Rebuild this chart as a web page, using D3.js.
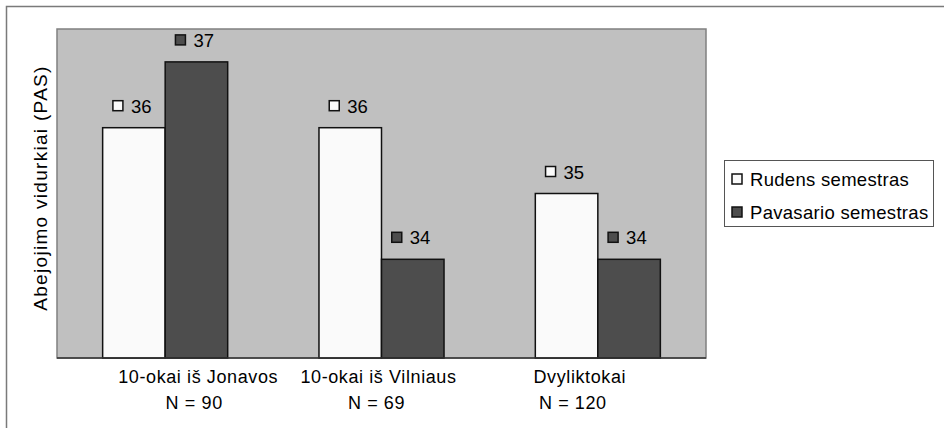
<!DOCTYPE html>
<html>
<head>
<meta charset="utf-8">
<script src="https://cdn.jsdelivr.net/npm/d3@7"></script>
<style>
  body { margin: 0; background: #fff; }
  text { font-family: "Liberation Sans", Arial, sans-serif; fill: #000; }
</style>
</head>
<body>
<div id="chart"></div>
<script>
// data
var groups = ["10-okai iš Jonavos", "10-okai iš Vilniaus", "Dvyliktokai"];
var groupN = ["N = 90", "N = 69", "N = 120"];
var seriesNames = ["Rudens semestras", "Pavasario semestras"];
var rudens = [36, 36, 35];
var pavasario = [37, 34, 34];
var yLabel = "Abejojimo vidurkiai (PAS)";

var colors = ["#fafafa", "#4d4d4d"];

var width = 944, height = 428;
var plot = {left: 57, top: 29, right: 706, bottom: 358};

var svg = d3.select("#chart")
    .append("svg")
    .attr("width", width)
    .attr("height", height);

// outer chart border (runs past the window on the right/bottom)
svg.append("rect")
    .attr("x", 6.5).attr("y", 6.5)
    .attr("width", 1200).attr("height", 1200)
    .attr("fill", "none")
    .attr("stroke", "#7a7a7a")
    .attr("stroke-width", 1.5);

// plot area
svg.append("rect")
    .attr("x", plot.left).attr("y", plot.top)
    .attr("width", plot.right - plot.left)
    .attr("height", plot.bottom - plot.top)
    .attr("fill", "#c0c0c0")
    .attr("stroke", "#808080")
    .attr("stroke-width", 1.5);

var x0 = d3.scaleBand()
    .domain(groups)
    .range([plot.left, plot.right])
    .paddingInner(0.422)
    .paddingOuter(0.211);

var x1 = d3.scaleBand()
    .domain(seriesNames)
    .range([0, x0.bandwidth()]);

var y = d3.scaleLinear()
    .domain([32.5, 37.5])
    .range([plot.bottom, plot.top]);

var rows = groups.map(function (g, i) {
    return {group: g, values: [
        {s: seriesNames[0], v: rudens[i], c: 0},
        {s: seriesNames[1], v: pavasario[i], c: 1}
    ]};
});

var gGroups = svg.selectAll("g.grp")
    .data(rows)
    .enter()
    .append("g")
    .attr("class", "grp")
    .attr("transform", function (d) { return "translate(" + x0(d.group) + ",0)"; });

gGroups.selectAll("rect")
    .data(function (d) { return d.values; })
    .enter()
    .append("rect")
    .attr("x", function (d) { return x1(d.s); })
    .attr("y", function (d) { return y(d.v); })
    .attr("width", x1.bandwidth())
    .attr("height", function (d) { return plot.bottom - y(d.v); })
    .attr("fill", function (d) { return colors[d.c]; })
    .attr("stroke", "#111")
    .attr("stroke-width", 1.5);

// value labels with small legend key
var lab = gGroups.selectAll("g.lab")
    .data(function (d) { return d.values; })
    .enter()
    .append("g")
    .attr("class", "lab")
    .attr("transform", function (d) {
        return "translate(" + (x1(d.s) + x1.bandwidth() / 2) + "," + (y(d.v) - 15) + ")";
    });

lab.append("rect")
    .attr("x", -21).attr("y", -12)
    .attr("width", 10).attr("height", 10)
    .attr("fill", function (d) { return colors[d.c]; })
    .attr("stroke", "#111")
    .attr("stroke-width", 1.5);

lab.append("text")
    .attr("x", -3)
    .attr("y", 0)
    .attr("font-size", "18.5px")
    .text(function (d) { return d.v; });

// bottom axis line
svg.append("line")
    .attr("x1", plot.left).attr("x2", plot.right)
    .attr("y1", plot.bottom).attr("y2", plot.bottom)
    .attr("stroke", "#333")
    .attr("stroke-width", 1.5);

// category labels (Excel put them slightly off-centre)
var tickShift = [33, -3, -18];
var cat = svg.selectAll("text.cat")
    .data(groups)
    .enter()
    .append("text")
    .attr("class", "cat")
    .attr("text-anchor", "middle")
    .attr("font-size", "18px")
    .attr("letter-spacing", "0.6px")
    .attr("transform", function (d, i) {
        return "translate(" + (x0(d) + x0.bandwidth() / 2 + tickShift[i]) + ",0)";
    });

cat.append("tspan")
    .attr("x", 0).attr("y", 383)
    .text(function (d) { return d; });

cat.append("tspan")
    .attr("x", function (d, i) { return [-4, -2, -7][i]; })
    .attr("y", 409)
    .text(function (d, i) { return groupN[i]; });

// y axis title
svg.append("text")
    .attr("transform", "translate(47,188) rotate(-90)")
    .attr("text-anchor", "middle")
    .attr("font-size", "19px")
    .attr("letter-spacing", "1.3px")
    .text(yLabel);

// legend
var legend = svg.append("g").attr("transform", "translate(724,160)");
legend.append("rect")
    .attr("x", 0.5).attr("y", 0.5)
    .attr("width", 209).attr("height", 66)
    .attr("fill", "#fff")
    .attr("stroke", "#555")
    .attr("stroke-width", 1);

var item = legend.selectAll("g.item")
    .data(seriesNames)
    .enter()
    .append("g")
    .attr("class", "item")
    .attr("transform", function (d, i) { return "translate(8," + (19 + i * 33) + ")"; });

item.append("rect")
    .attr("x", 0).attr("y", -5)
    .attr("width", 10).attr("height", 10)
    .attr("fill", function (d, i) { return colors[i]; })
    .attr("stroke", "#111")
    .attr("stroke-width", 1.5);

item.append("text")
    .attr("x", 18)
    .attr("y", 6.5)
    .attr("font-size", "18.5px")
    .attr("letter-spacing", "0.3px")
    .text(function (d) { return d; });
</script>
</body>
</html>
